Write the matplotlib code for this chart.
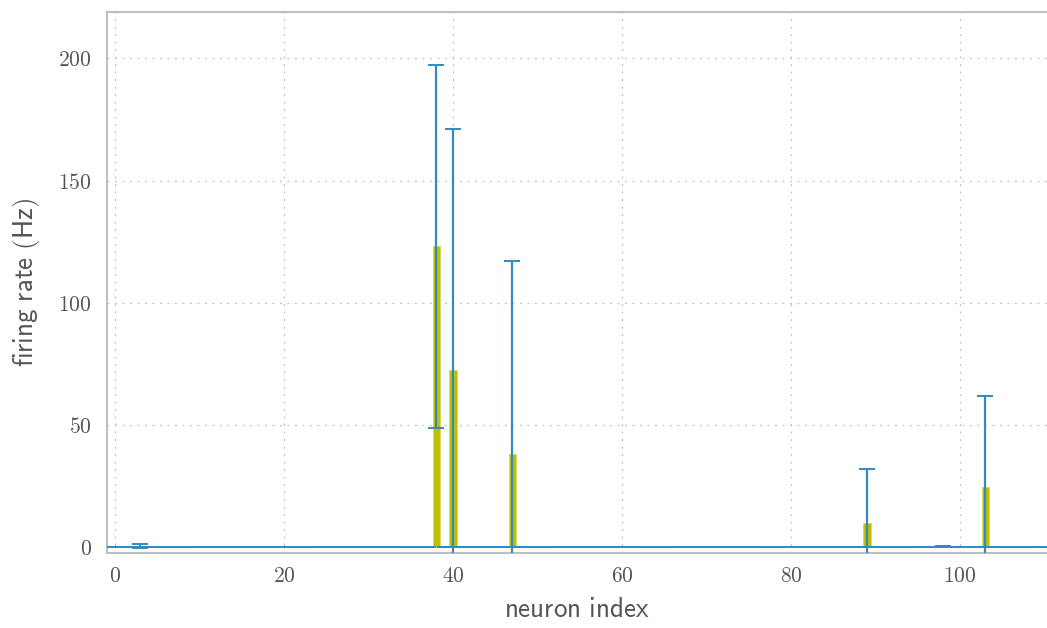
import numpy as np
import matplotlib
matplotlib.use("Agg")
import matplotlib.pyplot as plt
from matplotlib.ticker import FuncFormatter

# firing rate per neuron (Hz): mean and std, zero everywhere else
N_NEURONS = 112
active_idx = [3, 38, 40, 47, 89, 98, 103]
active_mean = [0.3, 123.0, 72.5, 38.2, 9.6, 0.1, 24.4]
active_std = [0.9, 74.3, 98.5, 78.8, 22.2, 0.2, 37.2]

x_ticks = [0, 20, 40, 60, 80, 100]
y_ticks = [0, 50, 100, 150, 200]

BAR_COLOR = "#c0c000"
ERR_COLOR = "#348abd"
TEXT_COLOR = "#555555"
GRID_COLOR = "#c0c0c0"

plt.rcParams["mathtext.fontset"] = "cm"

idx = np.arange(N_NEURONS)
mean = np.zeros(N_NEURONS)
std = np.zeros(N_NEURONS)
mean[active_idx] = active_mean
std[active_idx] = active_std

fig = plt.figure(figsize=(10.47, 6.28), dpi=100)
ax = fig.add_axes([0.1022, 0.1194, 0.8978, 0.8615])

ax.bar(idx, mean, width=0.85, color=BAR_COLOR, edgecolor="#d8d860",
       linewidth=0.6, zorder=2)
ax.errorbar(idx, mean, yerr=std, fmt="none", ecolor=ERR_COLOR,
            elinewidth=1.6, capsize=5.8, capthick=1.4, zorder=3)

ax.set_xlim(-0.95, 110.3)
ax.set_ylim(-2.5, 219)
ax.set_xticks(x_ticks)
ax.set_yticks(y_ticks)
fmt = FuncFormatter(lambda v, _: f"${v:g}$")
ax.xaxis.set_major_formatter(fmt)
ax.yaxis.set_major_formatter(fmt)
ax.tick_params(length=0, labelsize=15.5, labelcolor=TEXT_COLOR)
ax.tick_params(axis="x", pad=9)
ax.tick_params(axis="y", pad=11)

ax.grid(True, linestyle=(0, (1.5, 4.5)), color=GRID_COLOR, linewidth=0.9, zorder=0)
ax.set_axisbelow(True)

for side in ("left", "top", "bottom"):
    ax.spines[side].set_color("#bfbfbf")
    ax.spines[side].set_linewidth(1.5)
ax.spines["right"].set_visible(False)

ax.set_xlabel(r"$\mathsf{neuron\ index}$", fontsize=19.5, color=TEXT_COLOR, labelpad=8)
ax.set_ylabel(r"$\mathsf{firing\ rate\ (Hz)}$", fontsize=19.5, color=TEXT_COLOR, labelpad=12)

fig.savefig("out.png", dpi=100)
